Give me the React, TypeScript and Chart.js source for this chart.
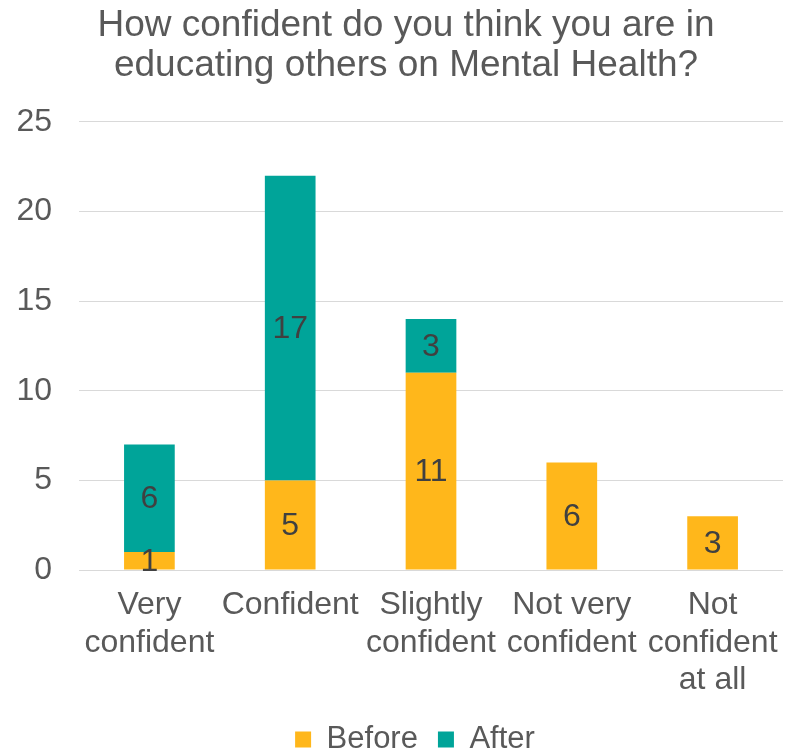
import React, { useEffect, useRef } from "react";
import { Chart, registerables } from "chart.js";

Chart.register(...registerables);

const categories: string[][] = [
  ["Very", "confident"],
  ["Confident"],
  ["Slightly", "confident"],
  ["Not very", "confident"],
  ["Not", "confident", "at all"],
];
const beforeValues = [1, 5, 11, 6, 3];
const afterValues = [6, 17, 3, 0, 0];
const yTicks = [0, 5, 10, 15, 20, 25];
const titleLines = ["How confident do you think you are in", "educating others on Mental Health?"];

const FONT = "'Liberation Sans', Arial, sans-serif";
const TEXT = "#595959";

const valueLabels = {
  id: "valueLabels",
  afterDatasetsDraw(chart: any) {
    const ctx = chart.ctx;
    ctx.save();
    ctx.font = `32px ${FONT}`;
    ctx.fillStyle = "#404040";
    ctx.textAlign = "center";
    ctx.textBaseline = "middle";
    chart.data.datasets.forEach((ds: any, di: number) => {
      const meta = chart.getDatasetMeta(di);
      meta.data.forEach((el: any, i: number) => {
        const v = ds.data[i];
        if (!v) return;
        const props = el.getProps(["x", "y", "base"], true);
        ctx.fillText(String(v), props.x, (props.y + props.base) / 2 + 1);
      });
    });
    ctx.restore();
  },
};

const shiftBlocks = {
  id: "shiftBlocks",
  afterLayout(chart: any) {
    const t = chart.titleBlock;
    if (t) {
      t.left = 29;
      t.width = t.right - t.left;
    }
    const l = chart.legend;
    if (l) {
      l.left = 47;
      l.width = l.right - l.left;
    }
  },
};

export default function App() {
  const ref = useRef<HTMLCanvasElement>(null);
  useEffect(() => {
    if (!ref.current) return;
    const chart = new Chart(ref.current, {
      type: "bar",
      data: {
        labels: categories,
        datasets: [
          { label: "Before", data: beforeValues, backgroundColor: "#FFB71B" },
          { label: "After", data: afterValues, backgroundColor: "#00A499" },
        ],
      },
      plugins: [valueLabels, shiftBlocks],
      options: {
        animation: false,
        responsive: false,
        layout: { padding: { left: 0, right: 7, top: 6, bottom: -11 } },
        datasets: { bar: { categoryPercentage: 1, barPercentage: 0.36 } },
        plugins: {
          title: {
            display: true,
            text: titleLines,
            color: TEXT,
            font: { family: FONT, size: 37, weight: "normal", lineHeight: 1.08 },
            padding: { top: 0, bottom: 36 },
          },
          legend: {
            position: "bottom",
            labels: {
              color: TEXT,
              font: { family: FONT, size: 31 },
              boxWidth: 16,
              boxHeight: 16,
              padding: 20,
            },
          },
          tooltip: { enabled: false },
        },
        scales: {
          x: {
            stacked: true,
            afterFit(scale: any) {
              scale.height = 134;
              scale.paddingLeft = 0;
              scale.paddingRight = 0;
            },
            grid: { display: false, drawTicks: false },
            border: { display: false },
            ticks: {
              color: TEXT,
              font: { family: FONT, size: 32, lineHeight: 1.16 },
              padding: 17,
              maxRotation: 0,
              autoSkip: false,
            },
          },
          y: {
            stacked: true,
            min: 0,
            max: 25,
            afterFit(scale: any) {
              scale.width = 79;
            },
            afterBuildTicks(scale: any) {
              scale.ticks = yTicks.map((v) => ({ value: v }));
            },
            grid: { color: "#D9D9D9", lineWidth: 1, drawTicks: false },
            border: { display: false },
            ticks: {
              color: TEXT,
              font: { family: FONT, size: 32 },
              padding: 27,
            },
          },
        },
      },
    });
    return () => chart.destroy();
  }, []);
  return (
    <div style={{ position: "absolute", left: 0, top: 0, width: 790, height: 754, background: "#fff" }}>
      <canvas ref={ref} width={790} height={754} />
    </div>
  );
}
